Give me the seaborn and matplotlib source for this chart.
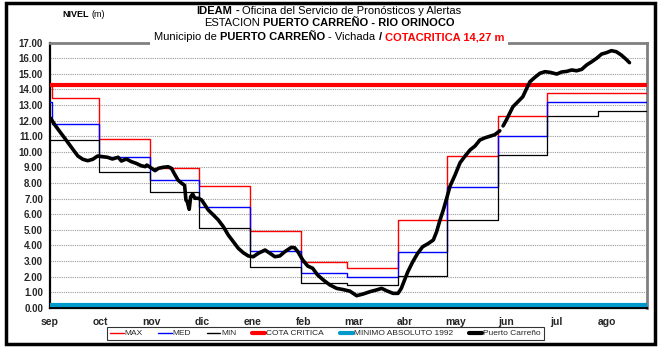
import numpy as np
import pandas as pd
import matplotlib
matplotlib.use("Agg")
import matplotlib.pyplot as plt
import seaborn as sns
from matplotlib.patches import Rectangle
from matplotlib.lines import Line2D

# ---- data -------------------------------------------------------------
month_labels = ["sep", "oct", "nov", "dic", "ene", "feb",
                "mar", "abr", "may", "jun", "jul", "ago"]

# day of the hydrological year (day 0 = 1 sep) where each monthly level starts
step_days = [0, 1, 30, 61, 91, 122, 153, 181, 212, 242, 273, 303, 334, 364]
max_vals = [14.20, 13.43, 10.80, 8.98, 7.81, 4.94, 2.95, 2.55, 5.63, 9.75, 12.30, 13.75, 13.79, 13.79]
med_vals = [13.20, 11.76, 9.69, 8.19, 6.48, 3.62, 2.23, 1.95, 3.55, 7.76, 10.99, 13.17, 13.21, 13.21]
min_vals = [10.75, 10.75, 8.72, 7.40, 5.09, 2.63, 1.60, 1.46, 2.03, 5.63, 9.78, 12.32, 12.64, 12.64]

cota_critica = 14.27
minimo_1992 = 0.20

# observed daily level, Puerto Carreño (NaN = missing record)
pc_day = [0.4, 3, 6, 9, 12, 15, 17, 20, 23, 26, 29, 32, 35, 38, 41.5, 43.5, 46.5,
          49.5, 52.5, 55.5, 58, 59, 61, 64, 66, 69, 72, 74, 76, 78, 80, 82, 82.8,
          83.6, 84.8, 85.7, 86.9, 88.3, 90.3, 92.4, 94.4, 96.4, 99.5, 102.5, 105.6,
          108.6, 111.7, 114.7, 117.7, 120.8, 123.8, 126.9, 131, 134, 137, 140, 143,
          147, 149, 151, 154, 157, 160, 163, 166.5, 170.5, 174.6, 178.7, 182.7,
          186.8, 190.8, 195, 199, 202, 205, 209, 212, 214, 216, 218, 221, 224, 227,
          230, 233.5, 235.5, 237.6, 239.6, 241.6, 243.7, 246.7, 249.8, 252.8, 255.9,
          258.9, 261.9, 265, 268, 271, 274, 275, 276, 278, 280, 282, 285, 288, 290.4,
          292.4, 295.4, 298.5, 301.5, 304.6, 308.7, 311.7, 314.8, 317.8, 320.8,
          323.9, 326.9, 330, 333, 336, 339, 342, 345, 348, 351, 353]
pc_val = [12.15, 11.72, 11.29, 10.87, 10.44, 10.01, 9.73, 9.52, 9.43, 9.52, 9.73,
          9.69, 9.65, 9.54, 9.65, 9.41, 9.54, 9.37, 9.26, 9.11, 9.05, 9.15, 9.01,
          8.79, 8.94, 9.01, 9.04, 8.94, 8.55, 8.19, 8.00, 7.85, 6.91, 6.80, 6.31,
          7.12, 7.29, 7.02, 7.02, 6.91, 6.59, 6.27, 5.95, 5.63, 5.20, 4.66, 4.23,
          3.81, 3.53, 3.32, 3.27, 3.49, 3.70, 3.49, 3.27, 3.32, 3.59, 3.87, 3.85,
          3.59, 3.06, 2.67, 2.53, 2.10, 1.78, 1.46, 1.24, 1.16, 1.06, 0.77, 0.88,
          1.03, 1.14, 1.24, 1.09, 0.92, 0.92, 1.24, 1.78, 2.31, 2.95, 3.49, 3.91,
          4.09, 4.34, 4.87, 5.63, 6.27, 7.00, 7.80, 8.50, 9.30, 9.72, 10.12, 10.37,
          10.76, 10.90, 11.00, 11.10, 11.35, np.nan, 11.66, 12.04, 12.47, 12.89,
          13.21, 13.53, 14.07, 14.50, 14.78, 15.04, 15.14, 15.10, 14.99, 15.12,
          15.16, 15.25, 15.20, 15.29, 15.57, 15.78, 16.00, 16.27, 16.36, 16.49,
          16.42, 16.21, 15.93, 15.72]

y_ticks = list(range(0, 18))

# ---- style ------------------------------------------------------------
sns.set_theme(style="white")
plt.rcParams["font.family"] = ["Liberation Sans", "DejaVu Sans"]
title_family = ["Liberation Sans", "DejaVu Sans"]

W, H, DPI = 658, 348, 100
fig = plt.figure(figsize=(W / DPI, H / DPI), dpi=DPI, facecolor="white")
ax = fig.add_axes([50 / W, 1 - 307.7 / H, (646.7 - 50) / W, (307.7 - 42.7) / H])
ax.set_facecolor("white")

# monthly statistics as stepped lines
steps = pd.DataFrame({"dia": step_days, "MAX": max_vals, "MED": med_vals, "MIN": min_vals})
sns.lineplot(data=steps, x="dia", y="MAX", ax=ax, color="#FF0000", lw=1.0,
             drawstyle="steps-post", zorder=3)
sns.lineplot(data=steps, x="dia", y="MED", ax=ax, color="#0000FF", lw=1.0,
             drawstyle="steps-post", zorder=3)
sns.lineplot(data=steps, x="dia", y="MIN", ax=ax, color="#000000", lw=0.9,
             drawstyle="steps-post", zorder=3)

ax.axhline(cota_critica, color="#FF0000", lw=3, zorder=4)
ax.axhline(minimo_1992, color="#0099CC", lw=3, zorder=4)

# observed series, one segment per continuous stretch of record
obs = pd.DataFrame({"dia": pc_day, "nivel": pc_val})
obs["tramo"] = obs["nivel"].isna().cumsum()
for _, seg in obs.dropna().groupby("tramo"):
    sns.lineplot(data=seg, x="dia", y="nivel", ax=ax, color="black", lw=2.6,
                 sort=False, zorder=5)

# ---- axes -------------------------------------------------------------
ax.set_xlim(0, 363.5)
ax.set_ylim(0, 17)
tick_step = 30.85
ax.set_xticks([i * tick_step for i in range(len(month_labels))])
ax.set_xticklabels(month_labels, fontsize=7.5, fontweight="bold")
ax.set_yticks(y_ticks)
ax.set_yticklabels([f"{v:.2f}" for v in y_ticks], fontsize=7, fontweight="bold")
ax.set_xlabel("")
ax.set_ylabel("")
ax.tick_params(axis="both", direction="out", length=3, width=0.8, color="black", pad=2)
ax.tick_params(axis="x", pad=4)
ax.yaxis.grid(True, color="#9a9a9a", linestyle=(0, (1, 1)), lw=0.8)
ax.xaxis.grid(False)
ax.set_axisbelow(True)
for side in ("left", "bottom"):
    ax.spines[side].set_color("black")
    ax.spines[side].set_linewidth(1.6)
for side in ("top", "right"):
    ax.spines[side].set_color("#808080")
    ax.spines[side].set_linewidth(2.0)

# ---- legend -----------------------------------------------------------
handles = [
    Line2D([], [], color="#FF0000", lw=1.0),
    Line2D([], [], color="#0000FF", lw=1.0),
    Line2D([], [], color="black", lw=1.0),
    Line2D([], [], color="#FF0000", lw=3.0),
    Line2D([], [], color="#0099CC", lw=3.0),
    Line2D([], [], color="black", lw=3.0),
]
labels = ["MAX", "MED", "MIN", "COTA CRITICA", "MINIMO ABSOLUTO 1992", "Puerto Carreño"]
leg = fig.legend(handles, labels, loc="center", bbox_to_anchor=(325.5 / W, 1 - 333.5 / H),
                 ncol=6, fontsize=6, frameon=True, fancybox=False, handlelength=1.6,
                 handletextpad=0.1, columnspacing=1.9, borderpad=0.35, borderaxespad=0)
leg.get_frame().set_edgecolor("black")
leg.get_frame().set_linewidth(0.8)

# ---- titles -----------------------------------------------------------
renderer = fig.canvas.get_renderer()


def space_width(size, weight="normal"):
    a = fig.text(0, 0, "x x", fontsize=size, fontweight=weight, family=title_family)
    b = fig.text(0, 0, "xx", fontsize=size, fontweight=weight, family=title_family)
    w = a.get_window_extent(renderer).width - b.get_window_extent(renderer).width
    a.remove()
    b.remove()
    return w


def rich_line(y_px, parts, size, cx_px=329, left_px=None):
    texts = []
    for s, weight, color in parts:
        t = fig.text(0, 1 - y_px / H, s, fontsize=size, fontweight=weight, color=color,
                     va="center", ha="left", family=title_family, zorder=10)
        texts.append(t)
    space = space_width(size)
    widths = [t.get_window_extent(renderer).width for t in texts]
    total = sum(widths) + space * (len(texts) - 1)
    x = cx_px - total / 2 if left_px is None else left_px
    start = x
    for t, w in zip(texts, widths):
        t.set_x(x / W)
        x += w + space
    return start, start + total


rich_line(10.5, [("IDEAM", "bold", "black"), ("-", "bold", "black"),
                 ("Oficina del Servicio de Pronósticos y Alertas", "normal", "black")], 8)
rich_line(23.5, [("ESTACION", "normal", "black"),
                 ("PUERTO CARREÑO - RIO ORINOCO", "bold", "black")], 8)
x0, x1 = rich_line(37, [("Municipio de", "normal", "black"), ("PUERTO CARREÑO", "bold", "black"),
                        ("- Vichada", "normal", "black"), ("/", "bold", "black"),
                        ("COTACRITICA 14,27 m", "bold", "#FF0000")], 8)
# white band behind the third title line, over the top frame of the plot
fig.patches.append(Rectangle(((x0 - 4) / W, 1 - 45 / H), (x1 - x0 + 8) / W, 15 / H,
                             transform=fig.transFigure, facecolor="white",
                             edgecolor="none", zorder=5))

# axis caption: bold "NIVEL" followed by the unit in regular weight
rich_line(14.5, [("NIVEL", "bold", "black"), ("(m)", "normal", "black")], 6.5, left_px=62)

# outer frame of the chart
fig.patches.append(Rectangle((6 / W, 4 / H), (655 - 6) / W, (345 - 4) / H,
                             transform=fig.transFigure, facecolor="none",
                             edgecolor="black", lw=2.5, zorder=20))

fig.savefig("out.png", dpi=DPI, facecolor="white")
